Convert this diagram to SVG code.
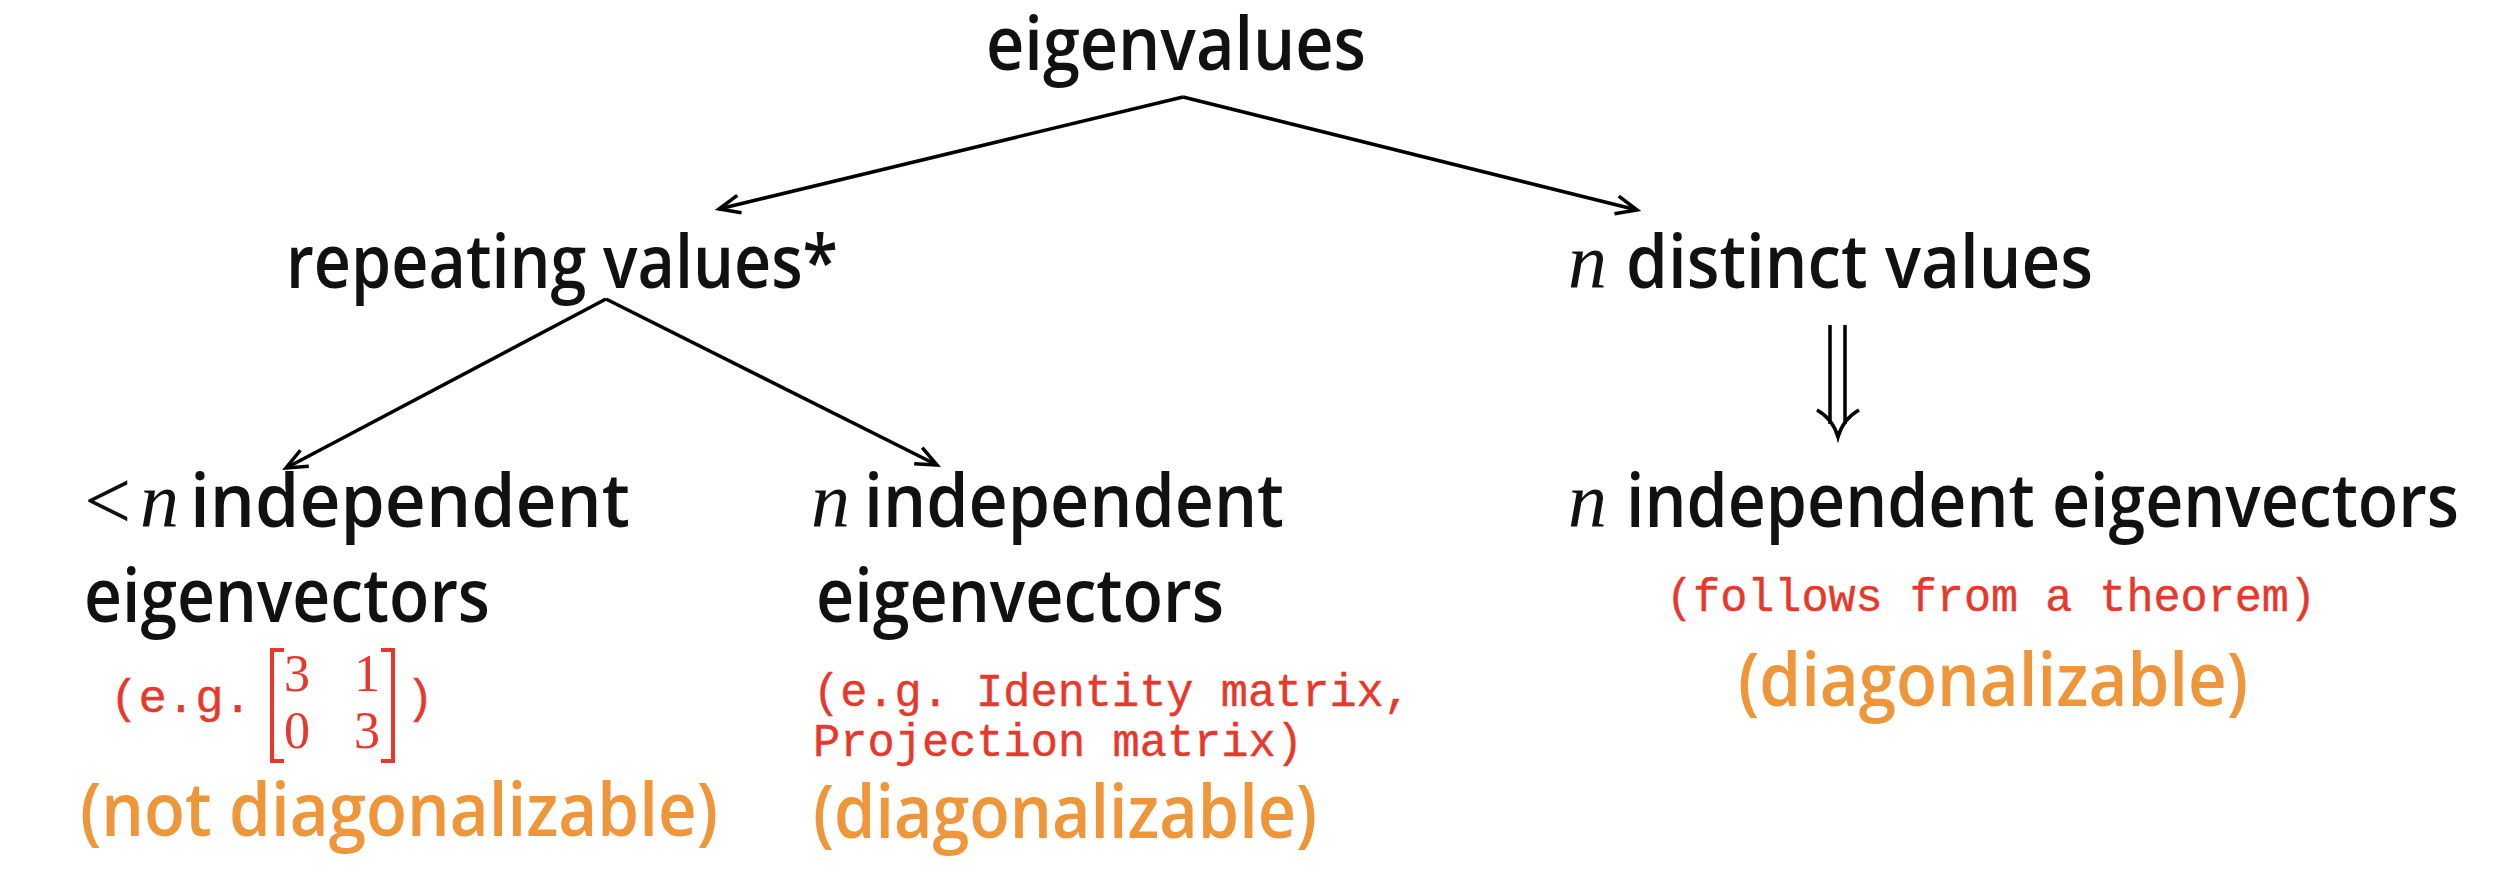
<svg xmlns="http://www.w3.org/2000/svg" width="2500" height="878" viewBox="0 0 2500 878">
<defs>
<style>
.sk{font-family:"Open Sans","Lato",sans-serif;font-weight:600;fill:#111;font-size:74px}
.mi{font-family:"Liberation Serif","DejaVu Serif",serif;font-style:italic;fill:#111;font-size:78px}
.mr{font-family:"Liberation Serif","DejaVu Serif",serif;fill:#111;font-size:84px}
.red{font-family:"Liberation Mono","Courier New",monospace;fill:#e8372b;stroke:#e8372b;stroke-width:0.4;font-size:46px}
.num{font-family:"Liberation Serif","DejaVu Serif",serif;fill:#e8372b;font-size:52px}
.org{font-family:"Open Sans","Lato",sans-serif;font-weight:600;fill:#f0963a;font-size:74px}
.ln{fill:none;stroke:#000;stroke-width:3.5}
.br{fill:none;stroke:#e8372b;stroke-width:4}
</style>
<marker id="ah" viewBox="0 0 12 12" refX="11" refY="6" markerWidth="12" markerHeight="12" markerUnits="userSpaceOnUse" orient="auto" overflow="visible">
<path d="M-10,-3 L11,6 L-10,15" fill="none" stroke="#000" stroke-width="3.5"/>
</marker>
</defs>
<rect width="2500" height="878" fill="#fff"/>

<g id="connectors">
<path class="ln" d="M1183,97 L719,209" marker-end="url(#ah)"/>
<path class="ln" d="M1183,97 L1637,210" marker-end="url(#ah)"/>
<path class="ln" d="M606,299 L286,468" marker-end="url(#ah)"/>
<path class="ln" d="M606,299 L937,465" marker-end="url(#ah)"/>
<g id="implies">
<path class="ln" d="M1830,325 L1830,424 M1845,325 L1845,424"/>
<path class="ln" d="M1817,410 Q1833,419 1838,437 Q1843,419 1859,410"/>
</g>
</g>

<g id="n-eigenvalues">
<text class="sk" x="986" y="70" textLength="380" lengthAdjust="spacingAndGlyphs">eigenvalues</text>
</g>

<g id="n-repeating">
<text class="sk" x="286" y="288" textLength="552" lengthAdjust="spacingAndGlyphs">repeating values*</text>
</g>

<g id="n-distinct">
<text class="mi" x="1568" y="288">n</text>
<text class="sk" x="1626" y="288" textLength="467" lengthAdjust="spacingAndGlyphs">distinct values</text>
</g>

<g id="n-less">
<text class="mr" x="84" y="529">&lt;</text>
<text class="mi" x="140" y="527">n</text>
<text class="sk" x="190" y="527" textLength="440" lengthAdjust="spacingAndGlyphs">independent</text>
<text class="sk" x="84" y="622" textLength="406" lengthAdjust="spacingAndGlyphs">eigenvectors</text>
<text class="red" x="110" y="712" textLength="142" lengthAdjust="spacingAndGlyphs">(e.g.</text>
<g id="matrix">
<path class="br" d="M284,650 L272,650 L272,761 L284,761"/>
<path class="br" d="M381,650 L393,650 L393,761 L381,761"/>
<text class="num" x="284" y="691">3</text>
<text class="num" x="354" y="691">1</text>
<text class="num" x="284" y="748">0</text>
<text class="num" x="354" y="748">3</text>
</g>
<text class="red" x="406" y="712">)</text>
<text class="org" x="80" y="836" textLength="638" lengthAdjust="spacingAndGlyphs">(not diagonalizable)</text>
</g>

<g id="n-independent">
<text class="mi" x="811" y="527">n</text>
<text class="sk" x="864" y="527" textLength="420" lengthAdjust="spacingAndGlyphs">independent</text>
<text class="sk" x="816" y="622" textLength="408" lengthAdjust="spacingAndGlyphs">eigenvectors</text>
<text class="red" x="813" y="706" textLength="598" lengthAdjust="spacingAndGlyphs">(e.g. Identity matrix,</text>
<text class="red" x="813" y="756" textLength="490" lengthAdjust="spacingAndGlyphs">Projection matrix)</text>
<text class="org" x="813" y="838" textLength="504" lengthAdjust="spacingAndGlyphs">(diagonalizable)</text>
</g>

<g id="n-right">
<text class="mi" x="1568" y="527">n</text>
<text class="sk" x="1626" y="527" textLength="833" lengthAdjust="spacingAndGlyphs">independent eigenvectors</text>
<text class="red" x="1666" y="611" textLength="650" lengthAdjust="spacingAndGlyphs">(follows from a theorem)</text>
<text class="org" x="1738" y="706" textLength="510" lengthAdjust="spacingAndGlyphs">(diagonalizable)</text>
</g>
</svg>
